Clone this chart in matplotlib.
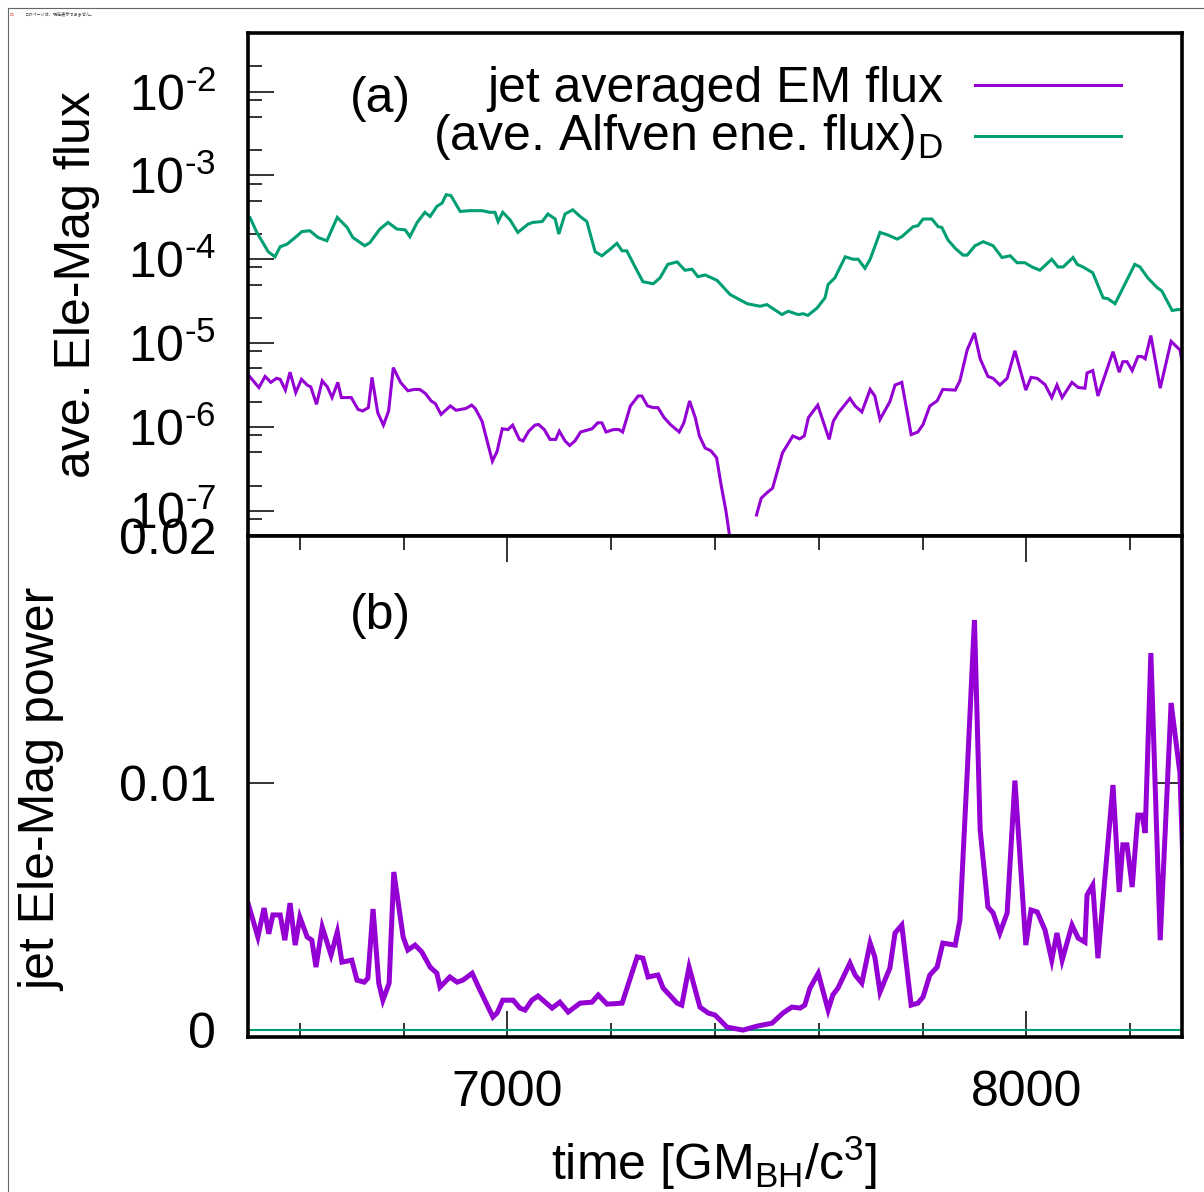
import numpy as np
import matplotlib
matplotlib.use("Agg")
import matplotlib.pyplot as plt
from matplotlib.ticker import FixedLocator, FuncFormatter, NullFormatter
from matplotlib.lines import Line2D

plt.rcParams['font.family'] = ['Liberation Sans', 'DejaVu Sans']
plt.rcParams['mathtext.fontset'] = 'custom'
plt.rcParams['mathtext.rm'] = 'Liberation Sans'
plt.rcParams['mathtext.it'] = 'Liberation Sans:italic'
plt.rcParams['mathtext.bf'] = 'Liberation Sans:bold'
plt.rcParams['axes.unicode_minus'] = False

# ---------------- data ----------------
# (a) green: (ave. Alfven ene. flux)_D
alfven_t = [6504, 6517, 6539, 6552, 6562, 6575, 6591, 6604, 6619, 6635, 6652, 6672,
            6691, 6702, 6725, 6735, 6754, 6770, 6787, 6803, 6812, 6826, 6841, 6851,
            6864, 6874, 6882, 6891, 6909, 6928, 6951, 6966, 6976, 6982, 6991, 7005,
            7020, 7040, 7049, 7067, 7078, 7092, 7099, 7111, 7126, 7140, 7153, 7169,
            7182, 7198, 7211, 7221, 7230, 7246, 7261, 7281, 7294, 7309, 7327, 7342,
            7356, 7367, 7381, 7404, 7429, 7462, 7487, 7500, 7529, 7541, 7560, 7570,
            7579, 7597, 7612, 7618, 7631, 7651, 7666, 7676, 7689, 7699, 7718, 7733,
            7751, 7760, 7782, 7791, 7801, 7818, 7830, 7837, 7849, 7863, 7878, 7886,
            7901, 7917, 7936, 7953, 7969, 7982, 7997, 8011, 8026, 8049, 8061, 8071,
            8090, 8098, 8109, 8128, 8148, 8157, 8171, 8209, 8219, 8234, 8252, 8261,
            8281, 8292, 8300]
alfven_flux = [3.13e-4, 2.09e-4, 1.23e-4, 1.07e-4, 1.41e-4, 1.51e-4, 1.82e-4, 2.14e-4,
               2.19e-4, 1.82e-4, 1.66e-4, 3.16e-4, 2.40e-4, 1.82e-4, 1.45e-4, 1.58e-4,
               2.29e-4, 2.75e-4, 2.29e-4, 2.24e-4, 1.86e-4, 2.75e-4, 3.63e-4, 3.24e-4,
               4.27e-4, 4.68e-4, 5.89e-4, 5.75e-4, 3.72e-4, 3.80e-4, 3.80e-4, 3.63e-4,
               3.63e-4, 2.82e-4, 3.63e-4, 2.95e-4, 2.09e-4, 2.63e-4, 2.75e-4, 2.82e-4,
               3.47e-4, 3.02e-4, 2.00e-4, 3.47e-4, 3.89e-4, 3.24e-4, 2.82e-4, 1.23e-4,
               1.10e-4, 1.32e-4, 1.55e-4, 1.26e-4, 1.26e-4, 8.1e-5, 5.4e-5, 5.1e-5,
               6.0e-5, 8.7e-5, 9.3e-5, 7.4e-5, 7.6e-5, 6.2e-5, 6.5e-5, 5.6e-5,
               3.8e-5, 2.95e-5, 2.75e-5, 2.88e-5, 2.19e-5, 2.40e-5, 2.19e-5, 2.24e-5,
               2.14e-5, 2.63e-5, 3.47e-5, 5.0e-5, 6.0e-5, 1.07e-4, 1.00e-4, 1.00e-4,
               7.8e-5, 1.00e-4, 2.09e-4, 1.95e-4, 1.74e-4, 1.86e-4, 2.45e-4, 2.51e-4,
               3.02e-4, 3.02e-4, 2.45e-4, 2.40e-4, 1.70e-4, 1.35e-4, 1.12e-4, 1.12e-4,
               1.45e-4, 1.62e-4, 1.45e-4, 1.05e-4, 1.10e-4, 9.1e-5, 9.1e-5, 8.1e-5,
               7.4e-5, 1.00e-4, 8.1e-5, 8.1e-5, 1.05e-4, 8.7e-5, 8.1e-5, 6.9e-5,
               3.47e-5, 3.39e-5, 2.95e-5, 8.7e-5, 8.1e-5, 6.0e-5, 4.6e-5, 4.2e-5,
               2.45e-5, 2.51e-5, 2.51e-5]

# (a) purple: jet averaged EM flux (nan = not positive, no point on the log axis)
emflux_t = [6503, 6521, 6533, 6544, 6555, 6562, 6572, 6581, 6592, 6603, 6614, 6621,
            6632, 6643, 6653, 6662, 6673, 6680, 6699, 6712, 6721, 6732, 6739, 6750,
            6761, 6771, 6780, 6794, 6808, 6820, 6831, 6842, 6853, 6861, 6872, 6890,
            6901, 6920, 6931, 6938, 6951, 6960, 6971, 6980, 6990, 7001, 7010, 7023,
            7030, 7041, 7053, 7060, 7071, 7082, 7093, 7100, 7111, 7120, 7130, 7141,
            7152, 7163, 7174, 7182, 7190, 7204, 7215, 7222, 7237, 7252, 7259, 7270,
            7281, 7290, 7302, 7314, 7331, 7340, 7351, 7362, 7370, 7381, 7392, 7403,
            7412, 7421, 7427, 7436, 7454, 7480, 7489, 7501, 7511, 7530, 7550, 7563,
            7572, 7580, 7598, 7620, 7628, 7638, 7660, 7670, 7683, 7699, 7708, 7718,
            7737, 7747, 7760, 7778, 7791, 7801, 7814, 7828, 7839, 7863, 7872, 7886,
            7900, 7911, 7926, 7936, 7949, 7963, 7978, 7999, 8009, 8021, 8036, 8049,
            8059, 8069, 8088, 8100, 8113, 8117, 8128, 8138, 8167, 8179, 8186, 8194,
            8204, 8215, 8223, 8229, 8240, 8258, 8279, 8296, 8302]
emflux = [4.0e-6, 2.95e-6, 4.0e-6, 3.4e-6, 3.8e-6, 3.7e-6, 2.75e-6, 4.5e-6,
          2.57e-6, 3.7e-6, 3.16e-6, 3.0e-6, 1.86e-6, 3.55e-6, 3.0e-6, 2.24e-6,
          3.4e-6, 2.24e-6, 2.24e-6, 1.62e-6, 1.55e-6, 1.70e-6, 3.9e-6, 1.48e-6,
          1.05e-6, 1.55e-6, 5.1e-6, 3.4e-6, 2.7e-6, 2.8e-6, 2.8e-6, 2.5e-6,
          2.04e-6, 1.9e-6, 1.41e-6, 1.78e-6, 1.58e-6, 1.66e-6, 1.82e-6, 1.66e-6,
          1.17e-6, 7.1e-7, 3.9e-7, 5.1e-7, 9.5e-7, 9.3e-7, 1.05e-6, 7.1e-7,
          6.8e-7, 8.9e-7, 1.05e-6, 1.07e-6, 9.3e-7, 7.1e-7, 7.1e-7, 8.9e-7,
          6.8e-7, 6.0e-7, 6.8e-7, 8.7e-7, 9.1e-7, 9.5e-7, 1.12e-6, 1.12e-6,
          8.7e-7, 9.3e-7, 9.3e-7, 8.7e-7, 1.78e-6, 2.34e-6, 2.34e-6, 1.78e-6,
          1.70e-6, 1.70e-6, 1.29e-6, 1.07e-6, 8.7e-7, 1.12e-6, 2.04e-6, 1.29e-6,
          7.8e-7, 5.6e-7, 5.2e-7, 4.3e-7, 2.0e-7, 1.0e-7, 5.6e-8, 1.0e-8,
          np.nan, 8.9e-8, 1.41e-7, 1.66e-7, 1.86e-7, 4.9e-7, 7.8e-7, 7.2e-7,
          7.8e-7, 1.29e-6, 1.82e-6, 7.1e-7, 1.17e-6, 1.48e-6, 2.19e-6, 1.78e-6,
          1.51e-6, 2.8e-6, 2.34e-6, 1.23e-6, 2.0e-6, 3.16e-6, 3.4e-6, 8.1e-7,
          8.7e-7, 1.07e-6, 1.78e-6, 2.04e-6, 2.8e-6, 2.75e-6, 3.55e-6, 8.3e-6,
          1.32e-5, 6.5e-6, 4.0e-6, 3.8e-6, 3.16e-6, 3.8e-6, 8.1e-6, 2.75e-6,
          3.9e-6, 3.8e-6, 3.2e-6, 2.24e-6, 3.16e-6, 2.24e-6, 3.4e-6, 2.95e-6,
          2.9e-6, 4.4e-6, 4.7e-6, 2.34e-6, 7.9e-6, 4.5e-6, 6.0e-6, 6.0e-6,
          4.7e-6, 6.9e-6, 6.9e-6, 6.5e-6, 1.23e-5, 2.9e-6, 1.05e-5, 8.3e-6,
          5.2e-6]

# (b) purple: jet Ele-Mag power
power_t = [6500, 6519, 6531, 6540, 6548, 6562, 6571, 6581, 6591, 6600, 6614, 6623,
           6631, 6643, 6660, 6672, 6681, 6700, 6710, 6724, 6731, 6741, 6752, 6760,
           6772, 6781, 6799, 6808, 6822, 6835, 6851, 6864, 6870, 6889, 6903, 6914,
           6932, 6947, 6972, 6980, 6991, 7011, 7024, 7034, 7047, 7059, 7086, 7101,
           7117, 7140, 7163, 7175, 7192, 7221, 7250, 7261, 7271, 7290, 7300, 7327,
           7336, 7350, 7371, 7387, 7400, 7410, 7423, 7454, 7481, 7510, 7531, 7548,
           7564, 7573, 7583, 7599, 7618, 7627, 7637, 7660, 7670, 7683, 7699, 7708,
           7718, 7737, 7747, 7760, 7778, 7791, 7801, 7814, 7828, 7839, 7863, 7872,
           7886, 7900, 7911, 7926, 7936, 7949, 7963, 7978, 7999, 8009, 8021, 8036,
           8049, 8059, 8069, 8088, 8100, 8113, 8117, 8128, 8138, 8167, 8179, 8186,
           8194, 8204, 8215, 8223, 8229, 8240, 8258, 8279, 8296, 8302]
power = [0.00514, 0.00377, 0.00494, 0.00390, 0.00466, 0.00466, 0.00364, 0.00514,
         0.00344, 0.00457, 0.00377, 0.00364, 0.00255, 0.00417, 0.00304, 0.00397,
         0.00275, 0.00283, 0.00202, 0.00194, 0.00210, 0.00490, 0.00190, 0.00121,
         0.00190, 0.00640, 0.00377, 0.00324, 0.00344, 0.00316, 0.00255, 0.00230,
         0.00174, 0.00215, 0.00194, 0.00202, 0.00230, 0.00162, 0.00053, 0.00069,
         0.00121, 0.00121, 0.00089, 0.00081, 0.00121, 0.00138, 0.00089, 0.00113,
         0.00073, 0.00109, 0.00113, 0.00142, 0.00105, 0.00109, 0.00296, 0.00291,
         0.00215, 0.00223, 0.00170, 0.00109, 0.00101, 0.00255, 0.00093, 0.00069,
         0.00061, 0.00040, 0.00012, 0.00000, 0.00016, 0.00028, 0.00069, 0.00093,
         0.00089, 0.00101, 0.00170, 0.00230, 0.00081, 0.00142, 0.00170, 0.00271,
         0.00223, 0.00190, 0.00352, 0.00296, 0.00154, 0.00251, 0.00393, 0.00425,
         0.00101, 0.00109, 0.00134, 0.00223, 0.00255, 0.00352, 0.00344, 0.00445,
         0.01040, 0.01660, 0.00810, 0.00498, 0.00474, 0.00393, 0.00474, 0.01010,
         0.00344, 0.00486, 0.00478, 0.00405, 0.00283, 0.00393, 0.00283, 0.00425,
         0.00372, 0.00356, 0.00547, 0.00587, 0.00291, 0.00992, 0.00559, 0.00750,
         0.00750, 0.00579, 0.00870, 0.00870, 0.00798, 0.01526, 0.00364, 0.01324,
         0.01040, 0.00660]

# (b) green: Alfven power (indistinguishable from zero)
alfven_power_t = [6500, 8300]
alfven_power = [0.00002, 0.00002]

legend_labels = ["jet averaged EM flux", r"(ave. Alfven ene. flux)$_\mathrm{D}$"]
log_ticks = [1e-7, 1e-6, 1e-5, 1e-4, 1e-3, 1e-2]
log_minor = [m * 10.0 ** e for e in range(-8, -1) for m in (2, 5, 8)]
lin_ticks = [0, 0.01, 0.02]
lin_labels = ["0", "0.01", "0.02"]
x_major = [7000, 8000]
x_minor = [6600, 6800, 7200, 7400, 7600, 7800, 8200]

PURPLE = '#9400D3'
GREEN = '#009E73'
FS = 36

W, H = 1204, 1192
fig = plt.figure(figsize=(W / 100, H / 100), dpi=100)

def fx(px):
    return px / W

def fy(py):
    return 1 - py / H

L, R = 248, 1182
ax1 = fig.add_axes([fx(L), fy(536), fx(R) - fx(L), fy(33) - fy(536)])
ax2 = fig.add_axes([fx(L), fy(1037), fx(R) - fx(L), fy(536) - fy(1037)])

for ax in (ax1, ax2):
    for s in ax.spines.values():
        s.set_linewidth(2.6)
        s.set_color('black')
    ax.set_xlim(6500, 8300)

# ---- top panel ----
ax1.plot(alfven_t, alfven_flux, color=GREEN, lw=2.2, solid_joinstyle='miter')
ax1.plot(emflux_t, emflux, color=PURPLE, lw=2.2, solid_joinstyle='miter')
ax1.set_yscale('log')
ax1.set_ylim(5e-8, 5e-2)
ax1.yaxis.set_major_locator(FixedLocator(log_ticks))
ax1.yaxis.set_minor_locator(FixedLocator(log_minor))


def log_label(v, pos):
    e = int(round(np.log10(v)))
    sign = r'\text{-}' if e < 0 else ''
    return r'$\mathdefault{10^{%s%d}}$' % (sign, abs(e))


ax1.yaxis.set_major_formatter(FuncFormatter(log_label))
ax1.yaxis.set_minor_formatter(NullFormatter())
ax1.tick_params(axis='y', which='major', direction='in', length=19, width=1.3,
                labelsize=FS, pad=23, left=True, right=False, color='#222222')
ax1.tick_params(axis='y', which='minor', direction='in', length=10, width=1.3,
                left=True, right=False, color='#222222')
ax1.set_xticks([])
ax1.tick_params(axis='x', which='both', bottom=False, top=False, labelbottom=False)

# ---- bottom panel ----
ax2.plot(alfven_power_t, alfven_power, color=GREEN, lw=1.5)
ax2.plot(power_t, power, color=PURPLE, lw=3.6, solid_joinstyle='miter')
ax2.set_ylim(-0.00028, 0.02)
ax2.set_yticks(lin_ticks)
ax2.set_yticklabels(lin_labels)
ax2.tick_params(axis='y', which='major', direction='in', length=19, width=1.3,
                labelsize=FS, pad=23, left=True, right=True, color='#222222')
ax2.set_xticks(x_major)
ax2.set_xticks(x_minor, minor=True)
ax2.set_xticklabels([str(v) for v in x_major])
ax2.tick_params(axis='x', which='major', direction='in', length=19, width=1.3,
                labelsize=FS, pad=24, bottom=True, top=True, color='#222222')
ax2.tick_params(axis='x', which='minor', direction='in', length=10, width=1.3,
                bottom=True, top=True, color='#222222')

# ---- labels ----
fig.text(fx(77), fy(285), "ave. Ele-Mag flux", rotation=90, ha='center',
         va='center', fontsize=FS)
fig.text(fx(42), fy(789), "jet Ele-Mag power", rotation=90, ha='center',
         va='center', fontsize=FS)
fig.text(fx(714), fy(1180), r"time [GM$_\mathrm{BH}$/c$^3$]", ha='center',
         va='baseline', fontsize=FS)

fig.text(fx(350), fy(112), "(a)", ha='left', va='baseline', fontsize=FS)
fig.text(fx(350), fy(629), "(b)", ha='left', va='baseline', fontsize=FS)

# ---- legend ----
fig.text(fx(943), fy(102), legend_labels[0], ha='right', va='baseline', fontsize=FS)
fig.text(fx(943), fy(150), legend_labels[1], ha='right', va='baseline', fontsize=FS)
fig.add_artist(Line2D([fx(975), fx(1121)], [fy(85), fy(85)], color=PURPLE, lw=2.2,
                      transform=fig.transFigure))
fig.add_artist(Line2D([fx(975), fx(1121)], [fy(136), fy(136)], color=GREEN, lw=2.2,
                      transform=fig.transFigure))

# ---- page frame and small browser note ----
fig.add_artist(Line2D([fx(8), fx(8)], [fy(8), 0], color='#666666', lw=0.8,
                      transform=fig.transFigure))
fig.add_artist(Line2D([fx(8), 1], [fy(8), fy(8)], color='#666666', lw=0.8,
                      transform=fig.transFigure))
fig.text(fx(10), fy(14), "▫", fontsize=4, color='#cc3333', va='center',
         family=['DejaVu Sans'])
fig.text(fx(24), fy(14), "このページは、現在表示できません。", fontsize=3,
         va='center', color='#333333', family=['Noto Sans CJK JP', 'DejaVu Sans'])

fig.savefig("out.png", dpi=100)
